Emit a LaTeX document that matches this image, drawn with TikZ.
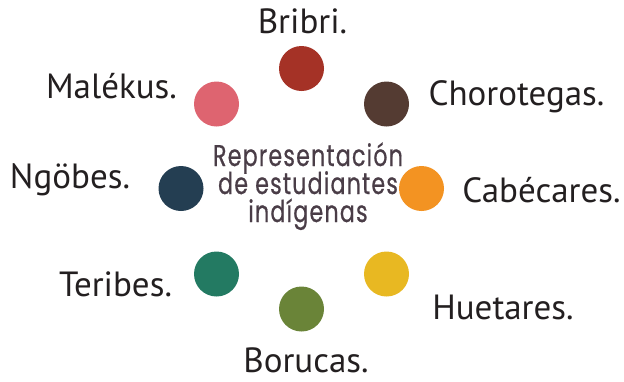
\documentclass[tikz,border=0pt]{standalone}
\usepackage{fontspec}
\setmainfont{PT Sans}
\newfontfamily\titlefont[FakeStretch=0.74,FakeBold=0.6,LetterSpace=4]{Poppins}
\definecolor{cBribri}{HTML}{A53226}
\definecolor{cChoro}{HTML}{543B32}
\definecolor{cCabe}{HTML}{F39322}
\definecolor{cHue}{HTML}{E8B822}
\definecolor{cBoru}{HTML}{6A8438}
\definecolor{cTeri}{HTML}{237A62}
\definecolor{cNgo}{HTML}{243E52}
\definecolor{cMale}{HTML}{DE6470}
\definecolor{labeltext}{HTML}{231F20}
\definecolor{titletext}{HTML}{4A3D47}
\begin{document}
\begin{tikzpicture}[x=1pt,y=-1pt,
  dot/.style={circle,inner sep=0pt,minimum size=45pt,fill=#1},
  lab/.style={anchor=base,inner sep=0pt,font=\fontsize{35}{35}\selectfont,text=labeltext},
  ttl/.style={anchor=base,inner sep=0pt,font=\titlefont\fontsize{30}{30}\selectfont,text=titletext}]
\useasboundingbox (0,0) rectangle (624,381);
\node[dot=cBribri] (bribri) at (301.5,68.5) {};
\node[dot=cChoro] (choro) at (386.5,104) {};
\node[dot=cCabe] (cabe) at (421.5,188.5) {};
\node[dot=cHue] (hue) at (386.5,274) {};
\node[dot=cBoru] (boru) at (301.5,309) {};
\node[dot=cTeri] (teri) at (216.5,274) {};
\node[dot=cNgo] (ngo) at (181,188.5) {};
\node[dot=cMale] (male) at (216.5,104) {};
\node[lab] (lbribri) at (302.5,33.3) {Bribri.};
\node[lab] (lchoro) at (516.5,105) {Chorotegas.};
\node[lab] (lcabe) at (541.5,202) {Cabécares.};
\node[lab] (lhue) at (503,319) {Huetares.};
\node[lab] (lboru) at (306,372) {Borucas.};
\node[lab] (lteri) at (115.5,296) {Teribes.};
\node[lab] (lngo) at (70,188) {Ngöbes.};
\node[lab] (lmale) at (111.5,98) {Malékus.};
\node[ttl] (t1) at (308,166) {Representación};
\node[ttl] (t2) at (308,194) {de estudiantes};
\node[ttl] (t3) at (308,222) {indígenas};
\end{tikzpicture}
\end{document}
